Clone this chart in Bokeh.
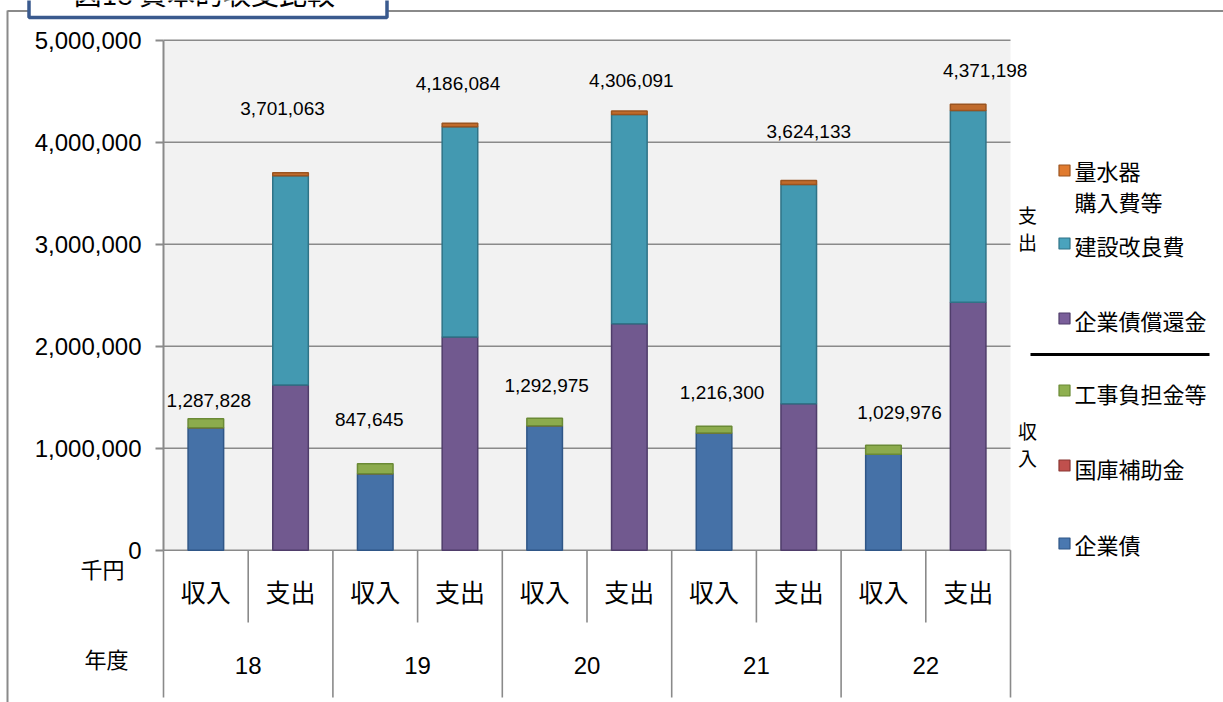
import numpy as np
from bokeh.plotting import figure
from bokeh.models import ColumnDataSource, Range1d, FixedTicker, NumeralTickFormatter
from bokeh.core.properties import value
from bokeh.embed import file_html
from bokeh.resources import INLINE

# ---------------- data (千円) ----------------
years = ["18", "19", "20", "21", "22"]
kinds = ["収入", "支出"]
income_series = ["企業債", "国庫補助金", "工事負担金等"]
expense_series = ["企業債償還金", "建設改良費", "量水器購入費等"]
kigyosai = [1200000, 750000, 1220000, 1150000, 940000]
kokko_hojo = [0, 0, 0, 0, 0]
koji_futan = [87828, 97645, 72975, 66300, 89976]
shokan = [1620000, 2090000, 2220000, 1435000, 2430000]
kensetsu = [2051063, 2061084, 2051091, 2149133, 1881198]
ryosuiki = [30000, 35000, 35000, 40000, 60000]
income_total = [1287828, 847645, 1292975, 1216300, 1029976]
expense_total = [3701063, 4186084, 4306091, 3624133, 4371198]
y_ticks = [0, 1000000, 2000000, 3000000, 4000000, 5000000]
title_text = "図18  資本的収支比較"
unit_text = "千円"
year_text = "年度"

# ---------------- layout helpers (page pixels -> data) ----------------
W, H = 1223, 702
FRAME_LEFT = 163   # page x of the value axis
UNIT = 84.7        # px per category
Y0 = 549.7         # page y of value 0
PXM = 102.0        # px per 1,000,000
def dx(px): return (px - FRAME_LEFT) / UNIT
def dy(py): return (Y0 - py) / PXM * 1e6

CJK = "Noto Sans CJK JP"
NUM = "Liberation Sans"
GRAY = "#8a8a8a"

p = figure(width=W, height=H,
           x_range=Range1d(dx(0), dx(W)),
           y_range=Range1d(dy(H), dy(0)),
           output_backend="svg", toolbar_location=None, x_axis_location=None,
           min_border_left=0, min_border_right=0, min_border_top=0, min_border_bottom=0,
           background_fill_color="white", border_fill_color="white", outline_line_color=None)
p.grid.visible = False

cats = [(y, k) for y in years for k in kinds]
ncat = len(cats)
pos = {c: i + 0.5 for i, c in enumerate(cats)}

# outer chart border (left + top) and title box
p.segment(x0=[dx(7)], x1=[dx(7)], y0=[dy(10)], y1=[dy(H + 5)], line_color=GRAY, line_width=2)
p.segment(x0=[dx(7)], x1=[dx(W + 5)], y0=[dy(10.5)], y1=[dy(10.5)], line_color=GRAY, line_width=2)
p.quad(left=[dx(28.5)], right=[dx(386.5)], top=[dy(-20)], bottom=[dy(17)],
       fill_color="white", line_color="#3a5a8e", line_width=3.5)
p.text(x=[dx(207)], y=[dy(-8)], text=[title_text], text_font=value(CJK), text_font_size="28px",
       text_align="center", text_baseline="alphabetic", text_color="black")

# plot area background + gridlines
p.quad(left=[0], right=[ncat], bottom=[y_ticks[0]], top=[y_ticks[-1]], fill_color="#f2f2f2", line_color=None)
p.segment(x0=[0] * len(y_ticks), x1=[ncat] * len(y_ticks), y0=y_ticks, y1=y_ticks,
          line_color=GRAY, line_width=1.6)

# value axis, fixed at the left edge of the plot area
yax = p.yaxis[0]
yax.fixed_location = 0
yax.ticker = FixedTicker(ticks=y_ticks)
yax.bounds = (y_ticks[0], y_ticks[-1])
yax.formatter = NumeralTickFormatter(format="0,0")
yax.major_label_text_font = NUM
yax.major_label_text_font_size = "24px"
yax.major_label_text_color = "black"
yax.axis_line_color = GRAY
yax.axis_line_width = 2
yax.major_tick_line_color = GRAY
yax.major_tick_line_width = 2
yax.major_tick_out = 8
yax.major_tick_in = 0
yax.minor_tick_line_color = None
yax.major_label_standoff = 14

# category separators below the axis
grp_x = [2 * i for i in range(len(years) + 1)]
mid_x = [2 * i + 1 for i in range(len(years))]
p.segment(x0=grp_x, x1=grp_x, y0=[0] * len(grp_x), y1=[dy(697)] * len(grp_x), line_color=GRAY, line_width=1.6)
p.segment(x0=mid_x, x1=mid_x, y0=[0] * len(mid_x), y1=[dy(622)] * len(mid_x), line_color=GRAY, line_width=1.6)

# bars
inc_src = ColumnDataSource(dict(x=[pos[(y, "収入")] for y in years],
                                **{income_series[0]: kigyosai, income_series[1]: kokko_hojo, income_series[2]: koji_futan}))
exp_src = ColumnDataSource(dict(x=[pos[(y, "支出")] for y in years],
                                **{expense_series[0]: shokan, expense_series[1]: kensetsu, expense_series[2]: ryosuiki}))
BW = 0.42
p.vbar_stack(income_series, x="x", width=BW, source=inc_src,
             fill_color=["#4571a7", "#b44c49", "#8cab4d"],
             line_color=["#2f5687", "#8a3633", "#6a8a35"], line_width=1.5)
p.vbar_stack(expense_series, x="x", width=BW, source=exp_src,
             fill_color=["#71598f", "#4399b1", "#c06b2c"],
             line_color=["#4f3d6a", "#2f7387", "#9a5420"], line_width=1.5)

# data labels (manual offsets like the original chart)
lab_dx = [3, -6, 2, 8, 16, -8, -2, 2, 10, 17]
lab_dy = [18, 44, 33, 34, 33, 64, 40, 30, 49, 34]
lx = [pos[(y, "収入")] for y in years] + [pos[(y, "支出")] for y in years]
ly = income_total + expense_total
lab_src = ColumnDataSource(dict(x=lx, y=ly, t=[f"{v:,}" for v in ly],
                                xo=lab_dx, yo=[-d for d in lab_dy]))
p.text(x="x", y="y", text="t", source=lab_src, x_offset="xo", y_offset="yo",
       text_font=value(NUM), text_font_size="19px", text_align="center", text_baseline="middle", text_color="black")

# category labels
sub_src = ColumnDataSource(dict(x=[pos[c] for c in cats], y=[dy(590)] * ncat, t=[c[1] for c in cats]))
p.text(x="x", y="y", text="t", source=sub_src, text_font=value(CJK), text_font_size="25px",
       text_align="center", text_baseline="middle", text_color="black")
grp_src = ColumnDataSource(dict(x=[2 * i + 1 for i in range(len(years))], y=[dy(665)] * len(years), t=years))
p.text(x="x", y="y", text="t", source=grp_src, text_font=value(NUM), text_font_size="24px",
       text_align="center", text_baseline="middle", text_color="black")
p.text(x=[dx(102), dx(106)], y=[dy(567), dy(657)], text=[unit_text, year_text], text_font=value(CJK),
       text_font_size="22px", text_align="center", text_baseline="middle", text_color="black")

# legend (custom, like the original)
leg_names = ["量水器\n購入費等", "建設改良費", "企業債償還金", "工事負担金等", "国庫補助金", "企業債"]
leg_fill = ["#e07b2f", "#4aa3bd", "#7a5f9a", "#8fb050", "#c0504d", "#4a78b0"]
leg_line = ["#9a5420", "#2f7387", "#4f3d6a", "#6a8a35", "#8a3633", "#2f5687"]
leg_my = [170, 243, 318, 390, 465, 543]
leg_ty = [185, 244, 319, 392, 467, 543]
p.scatter(x=[dx(1064)] * 6, y=[dy(v) for v in leg_my], marker="square", size=11,
          fill_color=leg_fill, line_color=leg_line, line_width=1.2)
p.text(x=[dx(1074)] * 6, y=[dy(v) for v in leg_ty], text=leg_names, text_font=value(CJK),
       text_font_size="22px", text_align="left", text_baseline="middle", text_color="black",
       text_line_height=0.98)
p.text(x=[dx(1027)] * 2, y=[dy(227), dy(443)], text=["支\n出", "収\n入"], text_font=value(CJK),
       text_font_size="19px", text_align="center", text_baseline="middle", text_color="black",
       text_line_height=1.0)
p.segment(x0=[dx(1030)], x1=[dx(1209)], y0=[dy(354)], y1=[dy(354)], line_color="black", line_width=3)

open("out.html", "w").write(file_html(p, INLINE))
